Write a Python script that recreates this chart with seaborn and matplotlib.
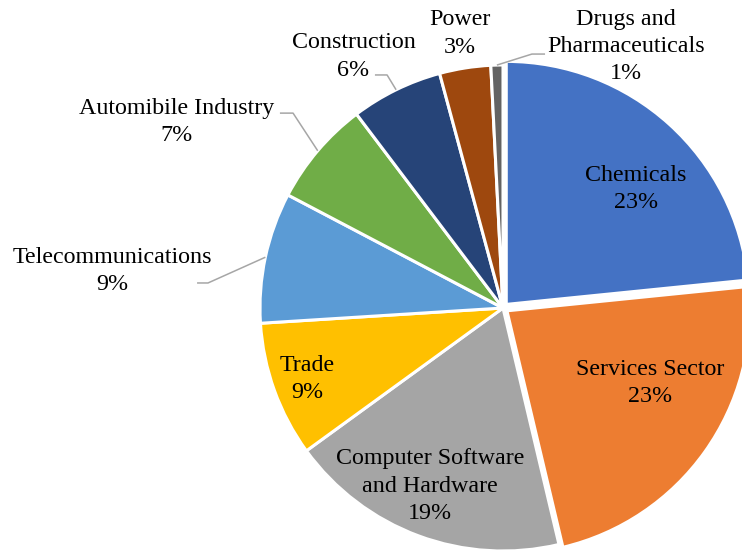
import numpy as np
import matplotlib
matplotlib.use("Agg")
import matplotlib.pyplot as plt
import seaborn as sns

# Sector shares of the inflow (percent), clockwise from 12 o'clock
sectors = [
    "Chemicals",
    "Services Sector",
    "Computer Software\nand Hardware",
    "Trade",
    "Telecommunications",
    "Automibile Industry",
    "Construction",
    "Power",
    "Drugs and\nPharmaceuticals",
]
shares = [23.4, 22.9, 18.7, 9.0, 8.7, 7.0, 6.1, 3.4, 0.8]
colors = ["#4472C4", "#ED7D31", "#A5A5A5", "#FFC000", "#5B9BD5",
          "#70AD47", "#264478", "#9E480E", "#636363"]
explode = [0.02, 0.02, 0, 0, 0, 0, 0, 0, 0]

# Label centres (axis units, pie radius = 1)
label_pos = [
    (0.547, 0.490),
    (0.605, -0.309),
    (-0.300, -0.733),
    (-0.807, -0.292),
    (-1.609, 0.152),
    (-1.342, 0.765),
    (-0.615, 1.035),
    (-0.177, 1.130),
    (0.506, 1.076),
]
# Leader lines for outside labels: slice index -> (elbow, end)
leaders = {
    4: ((-1.214, 0.103), (-1.259, 0.103)),
    5: ((-0.864, 0.802), (-0.918, 0.802)),
    6: ((-0.477, 0.959), (-0.527, 0.959)),
    8: ((0.119, 1.045), (0.173, 1.045)),
}

sns.set_theme(style="white")
plt.rcParams["font.family"] = ["Liberation Serif", "DejaVu Serif"]

W, H = 742, 554
fig = plt.figure(figsize=(W / 100, H / 100), dpi=100)
fig.patch.set_facecolor("white")

# place the axes so the pie centre sits at (503, 308) px with radius 243 px
R = 243.0
cx, cy = 503.0, 308.0
L = 1.3
side = 2 * L * R
ax = fig.add_axes([(cx - side / 2) / W, ((H - cy) - side / 2) / H, side / W, side / H])

palette = sns.color_palette(colors)
wedges, _ = ax.pie(
    shares,
    colors=palette,
    explode=explode,
    startangle=90,
    counterclock=False,
    radius=1.0,
    wedgeprops=dict(edgecolor="white", linewidth=2.2),
)
ax.set_xlim(-L, L)
ax.set_ylim(-L, L)
ax.set_aspect("equal")
ax.axis("off")

for i, (name, val) in enumerate(zip(sectors, shares)):
    x, y = label_pos[i]
    ax.text(x, y, f"{name}\n{val:.0f}%", ha="center", va="center",
            fontsize=17.3, color="black", linespacing=1.4)

for i, (elbow, end) in leaders.items():
    w = wedges[i]
    mid = np.deg2rad((w.theta1 + w.theta2) / 2)
    sx, sy = np.cos(mid) * 1.0, np.sin(mid) * 1.0
    ax.plot([sx, elbow[0], end[0]], [sy, elbow[1], end[1]],
            color="#A6A6A6", linewidth=1.1, clip_on=False, solid_capstyle="butt")

fig.savefig("out.png", dpi=100, facecolor="white")
